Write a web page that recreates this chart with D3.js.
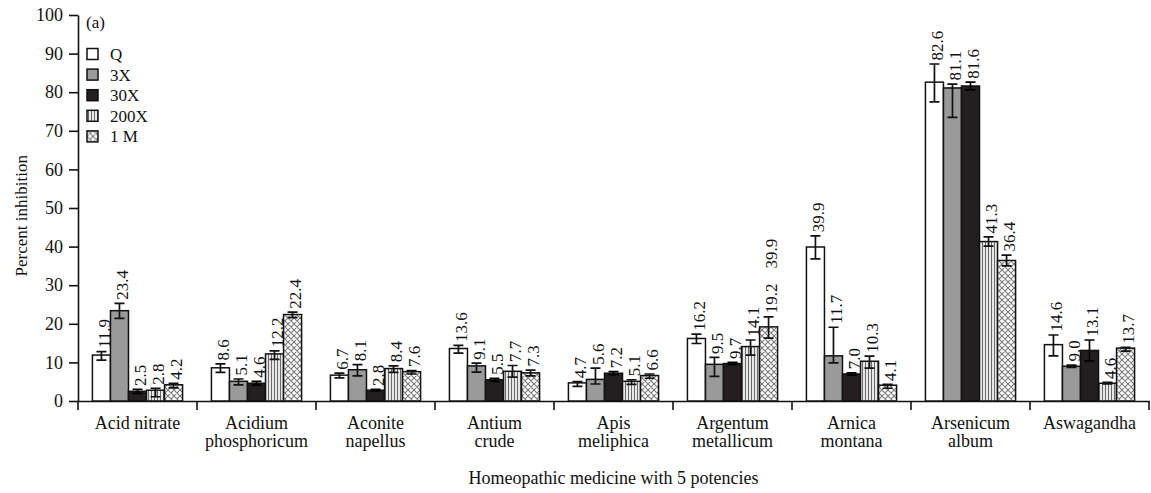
<!DOCTYPE html>
<html>
<head>
<meta charset="utf-8">
<script src="https://cdn.jsdelivr.net/npm/d3@7/dist/d3.min.js"></script>
<style>
  html, body { margin: 0; padding: 0; background: #fff; }
  svg { display: block; }
  text { font-family: "Liberation Serif", "Times New Roman", serif; fill: #111; }
</style>
</head>
<body>
<script>
// Percent inhibition of nine homeopathic medicines at five potencies
const categories = ["Acid nitrate", "Acidium phosphoricum", "Aconite napellus", "Antium crude",
  "Apis meliphica", "Argentum metallicum", "Arnica montana", "Arsenicum album", "Aswagandha"];
const categoryLines = [["Acid nitrate"], ["Acidium", "phosphoricum"], ["Aconite", "napellus"],
  ["Antium", "crude"], ["Apis", "meliphica"], ["Argentum", "metallicum"], ["Arnica", "montana"],
  ["Arsenicum", "album"], ["Aswagandha"]];
const potencies = ["Q", "3X", "30X", "200X", "1 M"];

const valuesQ    = [11.9, 8.6, 6.7, 13.6, 4.7, 16.2, 39.9, 82.6, 14.6];
const values3X   = [23.4, 5.1, 8.1, 9.1, 5.6, 9.5, 11.7, 81.1, 9.0];
const values30X  = [2.5, 4.6, 2.8, 5.5, 7.2, 9.7, 7.0, 81.6, 13.1];
const values200X = [2.8, 12.2, 8.4, 7.7, 5.1, 14.1, 10.3, 41.3, 4.6];
const values1M   = [4.2, 22.4, 7.6, 7.3, 6.6, 19.2, 4.1, 36.4, 13.7];

// error bar extents above / below each bar
const errUpQ    = [0.9, 1.0, 0.5, 0.8, 0.3, 1.1, 2.9, 4.7, 2.5];
const errLoQ    = [1.3, 1.2, 0.7, 1.2, 0.9, 1.3, 3.1, 5.1, 2.9];
const errUp3X   = [1.9, 0.6, 1.3, 0.7, 2.9, 1.8, 7.4, 1.0, 0.3];
const errLo3X   = [2.0, 0.9, 1.6, 1.6, 1.2, 3.1, 1.8, 7.6, 0.3];
const errUp30X  = [0.5, 0.5, 0.2, 0.4, 0.4, 0.3, 0.3, 1.0, 2.7];
const errLo30X  = [0.5, 0.5, 0.2, 0.4, 0.4, 0.3, 0.3, 1.0, 2.7];
const errUp200X = [0.5, 0.8, 0.7, 1.5, 0.4, 1.7, 1.3, 1.2, 0.2];
const errLo200X = [1.7, 1.4, 1.0, 1.5, 0.8, 2.2, 1.8, 1.2, 0.2];
const errUp1M   = [0.4, 0.6, 0.3, 0.7, 0.4, 2.6, 0.2, 1.4, 0.2];
const errLo1M   = [0.8, 0.8, 0.6, 0.8, 0.7, 2.9, 0.8, 1.4, 0.8];

const yTicks = [0, 10, 20, 30, 40, 50, 60, 70, 80, 90, 100];

// an additional value note printed above the Argentum metallicum 1 M label
const extraNotes = [{ category: "Argentum metallicum", potency: "1 M", text: "39.9" }];

const seriesValues = [valuesQ, values3X, values30X, values200X, values1M];
const seriesUp = [errUpQ, errUp3X, errUp30X, errUp200X, errUp1M];
const seriesLo = [errLoQ, errLo3X, errLo30X, errLo200X, errLo1M];

const W = 1151, H = 493;
const svg = d3.select("body").append("svg").attr("width", W).attr("height", H);

// fills: plain, grey, black, vertical stripes, cross hatch
const defs = svg.append("defs");
const stripes = defs.append("pattern").attr("id", "stripes")
  .attr("patternUnits", "userSpaceOnUse").attr("width", 3).attr("height", 6);
stripes.append("rect").attr("width", 3).attr("height", 6).attr("fill", "#fff");
stripes.append("line").attr("x1", 1.5).attr("x2", 1.5).attr("y1", 0).attr("y2", 6)
  .attr("stroke", "#6a6a6a").attr("stroke-width", 1.3);
const hatch = defs.append("pattern").attr("id", "hatch")
  .attr("patternUnits", "userSpaceOnUse").attr("width", 6).attr("height", 6);
hatch.append("rect").attr("width", 6).attr("height", 6).attr("fill", "#fff");
hatch.append("path").attr("d", "M0,0L6,6M6,0L0,6M-1,5L1,7M5,-1L7,1M-1,1L1,-1M5,7L7,5")
  .attr("stroke", "#7a7a7a").attr("stroke-width", 1.1);

const fills = ["#ffffff", "#9a9a9a", "#231f20", "url(#stripes)", "url(#hatch)"];

const x0 = d3.scaleBand().domain(categories).range([78, 1149]).padding(0);
const x1 = d3.scaleBand().domain(potencies).range([0, x0.bandwidth()]).paddingInner(0).paddingOuter(0.8);
const y = d3.scaleLinear().domain([0, 100]).range([401, 15]);

// y axis
const yAxis = svg.append("g").attr("transform", "translate(78,0)")
  .call(d3.axisLeft(y).tickValues(yTicks).tickSize(9).tickSizeOuter(0).tickPadding(6));
yAxis.select(".domain").attr("stroke", "#111").attr("stroke-width", 1.6);
yAxis.selectAll(".tick line").attr("stroke", "#111").attr("stroke-width", 1.6);
yAxis.selectAll(".tick text").style("font-size", "18px")
  .style("font-family", "'Liberation Serif', 'Times New Roman', serif").attr("fill", "#111");

// x axis: baseline with ticks at the group boundaries
const xAxis = svg.append("g").attr("transform", "translate(0,401)")
  .call(d3.axisBottom(x0).tickSize(0).tickSizeOuter(0).tickFormat(""));
xAxis.select(".domain").attr("stroke", "#111").attr("stroke-width", 1.6);
const bounds = categories.map(c => x0(c)).concat([x0.range()[1]]);
svg.append("g").selectAll("line").data(bounds).join("line")
  .attr("x1", d => d).attr("x2", d => d).attr("y1", 401).attr("y2", 410)
  .attr("stroke", "#111").attr("stroke-width", 1.6);

// category labels
const catG = svg.append("g").selectAll("text").data(categories).join("text")
  .attr("x", c => x0(c) + x0.bandwidth() / 2).attr("y", 429)
  .attr("text-anchor", "middle").style("font-size", "18px");
catG.each(function(c, i) {
  d3.select(this).selectAll("tspan").data(categoryLines[i]).join("tspan")
    .attr("x", x0(c) + x0.bandwidth() / 2).attr("dy", (d, j) => j === 0 ? 0 : 18).text(d => d);
});

// axis titles
svg.append("text").attr("x", x0.range()[0] + (x0.range()[1] - x0.range()[0]) / 2).attr("y", 484)
  .attr("text-anchor", "middle").style("font-size", "18px")
  .text("Homeopathic medicine with 5 potencies");
svg.append("text").attr("transform", `translate(27,${y(48)}) rotate(-90)`)
  .attr("text-anchor", "middle").style("font-size", "17px").text("Percent inhibition");

// bars
const rows = [];
categories.forEach((c, i) => {
  potencies.forEach((p, s) => {
    rows.push({ c, p, s, v: seriesValues[s][i], up: seriesUp[s][i], lo: seriesLo[s][i] });
  });
});

const barG = svg.append("g");
barG.selectAll("rect").data(rows).join("rect")
  .attr("x", d => x0(d.c) + x1(d.p))
  .attr("y", d => y(d.v))
  .attr("width", x1.bandwidth())
  .attr("height", d => y(0) - y(d.v))
  .attr("fill", d => fills[d.s])
  .attr("stroke", "#111").attr("stroke-width", 1.5);

// error bars
const capW = 10;
const errG = svg.append("g").attr("stroke", "#111").attr("stroke-width", 1.7).attr("fill", "none");
rows.forEach(d => {
  const cx = x0(d.c) + x1(d.p) + x1.bandwidth() / 2;
  const yt = y(d.v + d.up), yb = y(d.v - d.lo);
  errG.append("path")
    .attr("d", `M${cx},${yt}V${yb}M${cx - capW / 2},${yt}H${cx + capW / 2}M${cx - capW / 2},${yb}H${cx + capW / 2}`)
    .attr("stroke", d.s === 2 ? "#000" : "#111");
});

// value labels, rotated, just above each error bar
const labelG = svg.append("g");
const labelNodes = {};
rows.forEach(d => {
  const lx = x0(d.c) + x1(d.p) + x1.bandwidth() - 0.5;
  const ly = y(d.v + d.up) - 3.5;
  const t = labelG.append("text")
    .attr("transform", `translate(${lx},${ly}) rotate(-90)`)
    .style("font-size", "17px").text(d.v.toFixed(1));
  labelNodes[d.c + "|" + d.p] = { node: t.node(), lx, ly };
});
extraNotes.forEach(n => {
  const ref = labelNodes[n.category + "|" + n.potency];
  const len = ref.node.getComputedTextLength();
  labelG.append("text")
    .attr("transform", `translate(${ref.lx},${ref.ly - len - 15}) rotate(-90)`)
    .style("font-size", "17px").text(n.text);
});

// panel tag and legend
svg.append("text").attr("x", 86).attr("y", 28).style("font-size", "17px").text("(a)");
const leg = svg.append("g").selectAll("g").data(potencies).join("g")
  .attr("transform", (d, i) => `translate(87,${54 + i * 20.6})`);
leg.append("rect").attr("x", 0).attr("y", -5.5).attr("width", 11).attr("height", 11)
  .attr("fill", (d, i) => fills[i]).attr("stroke", "#111").attr("stroke-width", 1.5);
leg.append("text").attr("x", 23).attr("y", 6).style("font-size", "17px").text(d => d);
</script>
</body>
</html>
